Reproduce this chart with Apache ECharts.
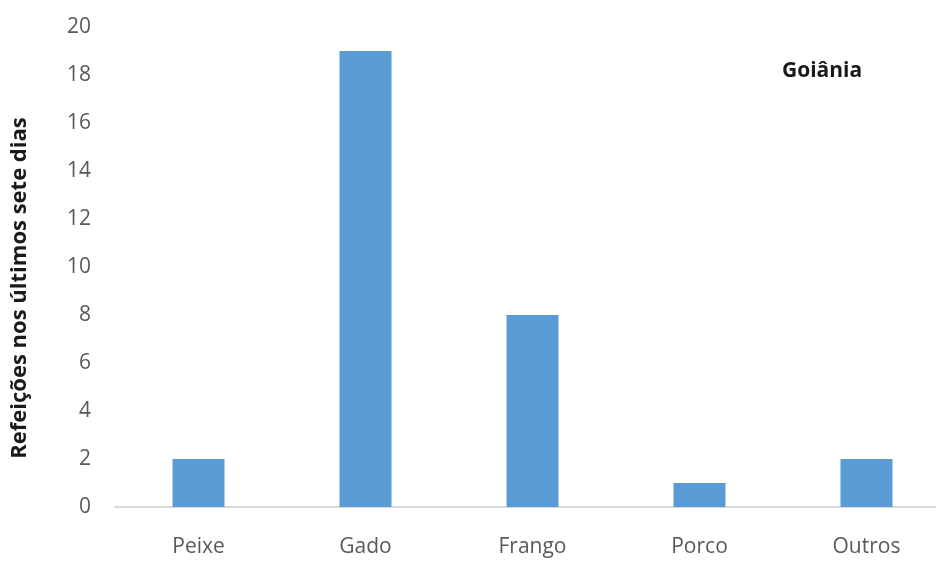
<!DOCTYPE html>
<html>
<head>
<meta charset="utf-8">
<script src="https://cdn.jsdelivr.net/npm/echarts@6/dist/echarts.min.js"></script>
<style>
  html, body { margin: 0; padding: 0; background: #fff; }
  #chart { width: 936px; height: 562px; }
</style>
</head>
<body>
<div id="chart"></div>
<script>
// Meat type eaten in meals over the last seven days (Goiânia)
const categories = ['Peixe', 'Gado', 'Frango', 'Porco', 'Outros'];
const meals = [2, 19, 8, 1, 2];
const yTicks = [0, 2, 4, 6, 8, 10, 12, 14, 16, 18, 20];

const chart = echarts.init(document.getElementById('chart'));
chart.setOption({
  animation: false,
  backgroundColor: '#ffffff',
  title: {
    text: 'Goiânia',
    left: 777,
    top: 56,
    textStyle: { fontFamily: 'Open Sans', fontSize: 21, fontWeight: 'bold', color: '#1a1a1a' }
  },
  grid: { left: 115, top: 27, width: 835, height: 480, containLabel: false, outerBoundsMode: 'none' },
  xAxis: {
    type: 'category',
    data: categories,
    axisLine: { lineStyle: { color: '#d9d9d9', width: 2 } },
    axisTick: { show: false },
    axisLabel: { color: '#595959', fontFamily: 'Open Sans', fontSize: 21, margin: 30 }
  },
  yAxis: {
    type: 'value',
    min: yTicks[0],
    max: yTicks[yTicks.length - 1],
    interval: 2,
    name: 'Refeições nos últimos sete dias',
    nameLocation: 'middle',
    nameGap: 84,
    nameTextStyle: {
      fontFamily: 'Open Sans', fontSize: 22, fontWeight: 'bold', color: '#1a1a1a',
      padding: [0, 42, 0, 0]
    },
    axisLine: { show: false },
    axisTick: { show: false },
    splitLine: { show: false },
    axisLabel: { color: '#595959', fontFamily: 'Open Sans', fontSize: 21, margin: 24 }
  },
  series: [{
    type: 'bar',
    data: meals,
    barWidth: 52,
    itemStyle: { color: '#5b9bd5' }
  }]
});
</script>
</body>
</html>
